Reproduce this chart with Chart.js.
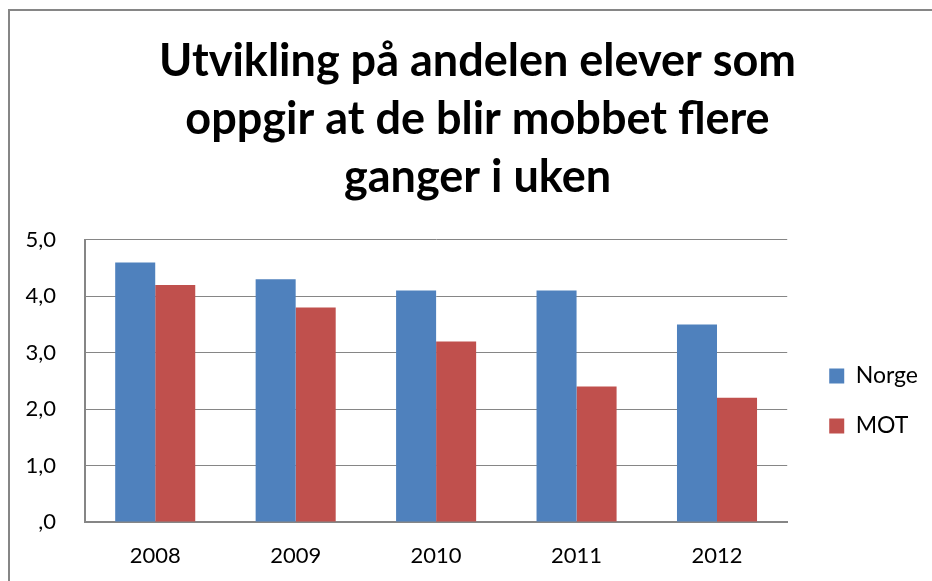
<!DOCTYPE html>
<html>
<head>
<meta charset="utf-8">
<script src="https://cdn.jsdelivr.net/npm/chart.js@4.4.1/dist/chart.umd.min.js"></script>
<style>
  html, body { margin: 0; padding: 0; background: #fff; }
  #wrap { position: relative; width: 932px; height: 581px; }
  #frame { position: absolute; left: 8px; top: 9px; right: 0; bottom: 0;
           border-left: 2px solid #868686; border-top: 2px solid #868686; }
  canvas { position: absolute; left: 0; top: 0; }
</style>
</head>
<body>
<div id="wrap">
  <div id="frame"></div>
  <canvas id="chart" width="932" height="581"></canvas>
</div>
<script>
// ---------- DATA ----------
const years = ["2008", "2009", "2010", "2011", "2012"];
const norge = [4.6, 4.3, 4.1, 4.1, 3.5];
const mot = [4.2, 3.8, 3.2, 2.4, 2.2];
const yTickLabels = [",0", "1,0", "2,0", "3,0", "4,0", "5,0"];
const titleLines = ["Utvikling på andelen elever som", "oppgir at de blir mobbet flere", "ganger i uken"];

const FONT = "Lato, 'Open Sans', sans-serif";
const GRID = "#868686";

// nudge legend + title blocks (Excel places them a bit differently)
function shiftBox(box, dx, dy) {
  if (!box) return;
  box.left += dx; box.right += dx;
  box.top += dy; box.bottom += dy;
}
const boxNudge = {
  id: "boxNudge",
  afterLayout(chart, args, opts) {
    shiftBox(chart.legend, opts.legendX, opts.legendY);
    shiftBox(chart.titleBlock, opts.titleX, 0);
  }
};

const ctx = document.getElementById("chart").getContext("2d");

new Chart(ctx, {
  type: "bar",
  data: {
    labels: years,
    datasets: [
      { label: "Norge", data: norge, backgroundColor: "#4F81BD", borderWidth: 0 },
      { label: "MOT", data: mot, backgroundColor: "#C0504D", borderWidth: 0 }
    ]
  },
  plugins: [boxNudge],
  options: {
    responsive: false,
    animation: false,
    categoryPercentage: 0.57,
    barPercentage: 1.0,
    layout: { padding: { left: 22, right: 19, top: 33, bottom: 0 } },
    plugins: {
      title: {
        display: true,
        text: titleLines,
        color: "#000",
        font: { family: FONT, size: 45, weight: "bold", lineHeight: 1.28 },
        padding: { top: 0, bottom: 34 }
      },
      legend: {
        position: "right",
        fullSize: false,
        labels: {
          boxWidth: 15,
          boxHeight: 15,
          padding: 27,
          color: "#000",
          font: { family: FONT, size: 23 }
        }
      },
      boxNudge: { legendX: 15, legendY: 20, titleX: 10 },
      tooltip: { enabled: false }
    },
    scales: {
      x: {
        afterFit: (scale) => { scale.height = 59; },
        grid: { display: false, drawTicks: false },
        border: { display: true, color: GRID, width: 2 },
        ticks: { color: "#000", padding: 21, font: { family: FONT, size: 22 } }
      },
      y: {
        min: 0,
        max: 5,
        afterFit: (scale) => { scale.width = 63; },
        grid: { color: GRID, lineWidth: 1, drawTicks: false },
        border: { display: true, color: GRID, width: 2 },
        ticks: {
          stepSize: 1,
          color: "#000",
          padding: 29,
          font: { family: FONT, size: 22 },
          callback: (v) => yTickLabels[v]
        }
      }
    }
  }
});
</script>
</body>
</html>
